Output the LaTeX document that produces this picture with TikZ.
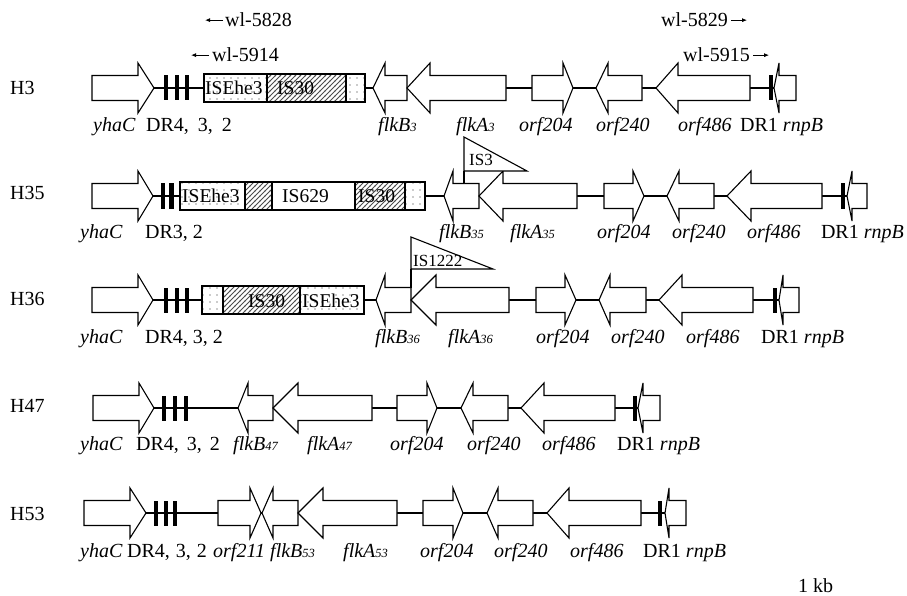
\documentclass[tikz,border=0pt]{standalone}
\usepackage{fontspec}
\setmainfont{Liberation Serif}
\usetikzlibrary{patterns,arrows.meta}

\pgfdeclarepatternformonly{sdots}{\pgfqpoint{-1pt}{-1pt}}{\pgfqpoint{1pt}{1pt}}{\pgfqpoint{7pt}{7pt}}{\pgfpathcircle{\pgfqpoint{0pt}{0pt}}{0.65pt}\pgfusepath{fill}}
\pgfdeclarepatternformonly{shatch}{\pgfqpoint{-1pt}{-1pt}}{\pgfqpoint{6pt}{6pt}}{\pgfqpoint{5pt}{5pt}}{\pgfsetlinewidth{0.75pt}\pgfpathmoveto{\pgfqpoint{-0.5pt}{-0.5pt}}\pgfpathlineto{\pgfqpoint{5.5pt}{5.5pt}}\pgfusepath{stroke}}

\tikzset{
  gene/.style={draw=black, fill=white, line width=1.1pt, line join=miter},
  isline/.style={draw=black, line width=1.1pt},
  backbone/.style={draw=black, line width=1.1pt},
  lab/.style={inner sep=0pt, font=\fontsize{20}{22}\selectfont, anchor=base west},
  glab/.style={lab, font=\fontsize{20}{22}\selectfont\itshape},
  rowlab/.style={inner sep=0pt, font=\fontsize{20}{22}\selectfont, anchor=west},
  islab/.style={inner sep=0pt, font=\fontsize{19.5}{22}\selectfont, anchor=base west},
  tlab/.style={inner sep=0pt, font=\fontsize{17}{19}\selectfont, anchor=base west},
  parrow/.style={line width=0.8pt, -{Latex[length=5pt,width=4pt]}},
}

\newcommand\geneR[4]{\draw[gene] (#1,#4-12.5) -- (#2,#4-12.5) -- (#2,#4-25) -- (#3,#4) -- (#2,#4+25) -- (#2,#4+12.5) -- (#1,#4+12.5) -- cycle;}
\newcommand\geneL[4]{\draw[gene] (#1,#4) -- (#2,#4-25) -- (#2,#4-12.5) -- (#3,#4-12.5) -- (#3,#4+12.5) -- (#2,#4+12.5) -- (#2,#4+25) -- cycle;}
\newcommand\drmark[2]{\fill[black] (#1-2.2,#2-12.5) rectangle (#1+2.2,#2+12.5);}
\newcommand\isdots[3]{\fill[white] (#1,#3-14) rectangle (#2,#3+14); \fill[pattern=sdots, pattern color=black!85] (#1,#3-14) rectangle (#2,#3+14); \draw[isline] (#1,#3-14) rectangle (#2,#3+14);}
\newcommand\ishatch[3]{\fill[white] (#1,#3-14) rectangle (#2,#3+14); \fill[pattern=shatch, pattern color=black!70] (#1,#3-14) rectangle (#2,#3+14); \draw[isline] (#1,#3-14) rectangle (#2,#3+14);}
\newcommand\isplain[3]{\draw[isline, fill=white] (#1,#3-14) rectangle (#2,#3+14);}
\newcommand\sbs[1]{{\fontsize{12.5}{13}\selectfont #1}}
\newcommand\drsp[1]{\hspace{\dimexpr 0.25em+#1pt\relax}}

\begin{document}
\begin{tikzpicture}[x=1pt,y=-1pt]
\useasboundingbox (0,0) rectangle (907,596);

% ---------- primers ----------
\node[lab] (p5828) at (225,27) {wl-5828};
\node[lab] (p5914) at (212,62) {wl-5914};
\node[lab] (p5829) at (661,27) {wl-5829};
\node[lab] (p5915) at (683,62) {wl-5915};
\draw[parrow] ([xshift=-2pt]p5828.west) -- ++(-18,0);
\draw[parrow] ([xshift=-3pt]p5914.west) -- ++(-18,0);
\draw[parrow] ([xshift=3pt]p5829.east) -- ++(16,0);
\draw[parrow] ([xshift=3pt]p5915.east) -- ++(16,0);

% ---------- row labels ----------
\node[rowlab] (h3) at (10,88) {H3};
\node[rowlab] (h35) at (10,193) {H35};
\node[rowlab] (h36) at (10,299) {H36};
\node[rowlab] (h47) at (10,406) {H47};
\node[rowlab] (h53) at (10,514) {H53};

% ================= H3 =================
\coordinate (a1) at (154,88); \coordinate (b1) at (774,88);
\draw[backbone] (a1) -- (b1);
\geneR{92}{138}{154}{88}
\drmark{166}{88}\drmark{177}{88}\drmark{187}{88}
\isdots{204}{267}{88}\ishatch{267}{346}{88}\isdots{346}{365}{88}
\node[islab] (is1a) at (205,95) {ISEhe3};
\node[islab] (is1b) at (277,95) {IS30};
\geneL{373}{385}{407}{88}
\geneL{407}{430}{506}{88}
\geneR{532}{563}{573}{88}
\geneL{596}{608}{642}{88}
\geneL{656}{678}{750}{88}
\drmark{771}{88}
\geneL{774}{779}{796}{88}
\node[glab] (l1a) at (93,132) {yhaC};
\node[lab]  (l1b) at (146,132) {DR4,\drsp{4}3,\drsp{4}2};
\node[glab] (l1c) at (378,132) {flkB\sbs{3}};
\node[glab] (l1d) at (456,132) {flkA\sbs{3}};
\node[glab] (l1e) at (519,132) {orf204};
\node[glab] (l1f) at (596,132) {orf240};
\node[glab] (l1g) at (678,132) {orf486};
\node[lab]  (l1h) at (740,132) {DR1 \textit{rnpB}};

% ================= H35 =================
\coordinate (a2) at (153,196); \coordinate (b2) at (847,196);
\draw[backbone] (a2) -- (b2);
\geneR{92}{138}{153}{196}
\drmark{163}{196}\drmark{171.5}{196}
\isdots{180}{245}{196}\ishatch{245}{272}{196}\isplain{272}{355}{196}\ishatch{355}{405}{196}\isdots{405}{425}{196}
\node[islab] (is2a) at (182,203) {ISEhe3};
\node[islab] (is2b) at (282,203) {IS629};
\node[islab] (is2c) at (358,203) {IS30};
\geneL{444}{453}{479}{196}
\geneL{479}{503}{577}{196}
\draw[gene] (464,137) -- (527,171) -- (464,171) -- cycle;
\draw[gene] (464,171) -- (464,183.5);
\node[tlab] (is3) at (469,166) {IS3};
\geneR{604}{633}{644}{196}
\geneL{667}{679}{714}{196}
\geneL{727}{751}{822}{196}
\drmark{843}{196}
\geneL{847}{852}{867}{196}
\node[glab] (l2a) at (80,238) {yhaC};
\node[lab]  (l2b) at (145,238) {DR3, 2};
\node[glab] (l2c) at (439,238) {flkB\sbs{35}};
\node[glab] (l2d) at (510,238) {flkA\sbs{35}};
\node[glab] (l2e) at (597,238) {orf204};
\node[glab] (l2f) at (672,238) {orf240};
\node[glab] (l2g) at (747,238) {orf486};
\node[lab, anchor=base east] (l2h) at (904,238) {DR1 \textit{rnpB}};

% ================= H36 =================
\coordinate (a3) at (153,300); \coordinate (b3) at (779,300);
\draw[backbone] (a3) -- (b3);
\geneR{92}{138}{153}{300}
\drmark{166}{300}\drmark{177}{300}\drmark{187}{300}
\isdots{202}{223}{300}\ishatch{223}{300}{300}\isdots{300}{364}{300}
\node[islab] (is3a) at (248,307) {IS30};
\node[islab] (is3b) at (302,307) {ISEhe3};
\geneL{376}{385}{411}{300}
\geneL{411}{436}{509}{300}
\draw[gene] (411,237) -- (493,269) -- (411,269) -- cycle;
\draw[gene] (411,269) -- (411,287.5);
\node[tlab] (is1222) at (413,266) {IS1222};
\geneR{536}{565}{576}{300}
\geneL{599}{610}{646}{300}
\geneL{659}{682}{753}{300}
\drmark{775}{300}
\geneL{779}{783}{799}{300}
\node[glab] (l3a) at (80,343) {yhaC};
\node[lab]  (l3b) at (145,343) {DR4, 3, 2};
\node[glab] (l3c) at (375,343) {flkB\sbs{36}};
\node[glab] (l3d) at (448,343) {flkA\sbs{36}};
\node[glab] (l3e) at (536,343) {orf204};
\node[glab] (l3f) at (611,343) {orf240};
\node[glab] (l3g) at (686,343) {orf486};
\node[lab]  (l3h) at (761,343) {DR1 \textit{rnpB}};

% ================= H47 =================
\coordinate (a4) at (154,408); \coordinate (b4) at (638,408);
\draw[backbone] (a4) -- (b4);
\geneR{93}{139}{154}{408}
\drmark{164}{408}\drmark{175}{408}\drmark{186}{408}
\geneL{238}{248}{273}{408}
\geneL{273}{298}{372}{408}
\geneR{397}{427}{437}{408}
\geneL{461}{473}{508}{408}
\geneL{521}{544}{615}{408}
\drmark{635}{408}
\geneL{638}{643}{660}{408}
\node[glab] (l4a) at (80,450) {yhaC};
\node[lab]  (l4b) at (136,450) {DR4,\drsp{3}3,\drsp{3}2};
\node[glab] (l4c) at (233,450) {flkB\sbs{47}};
\node[glab] (l4d) at (307,450) {flkA\sbs{47}};
\node[glab] (l4e) at (390,450) {orf204};
\node[glab] (l4f) at (467,450) {orf240};
\node[glab] (l4g) at (542,450) {orf486};
\node[lab]  (l4h) at (617,450) {DR1 \textit{rnpB}};

% ================= H53 =================
\coordinate (a5) at (146,513); \coordinate (b5) at (665,513);
\draw[backbone] (a5) -- (b5);
\geneR{84}{130}{146}{513}
\drmark{156}{513}\drmark{166}{513}\drmark{175}{513}
\geneR{218}{250}{261}{513}
\geneL{262}{273}{298}{513}
\geneL{298}{323}{397}{513}
\geneR{423}{453}{463}{513}
\geneL{487}{498}{533}{513}
\geneL{547}{569}{641}{513}
\drmark{660}{513}
\geneL{665}{669}{686}{513}
\node[glab] (l5a) at (80,557) {yhaC};
\node[lab]  (l5b) at (127,557) {DR4,\drsp{1}3,\drsp{1}2};
\node[glab] (l5c) at (213,557) {orf211};
\node[glab] (l5d) at (270,557) {flkB\sbs{53}};
\node[glab] (l5e) at (343,557) {flkA\sbs{53}};
\node[glab] (l5f) at (420,557) {orf204};
\node[glab] (l5g) at (494,557) {orf240};
\node[glab] (l5h) at (570,557) {orf486};
\node[lab]  (l5i) at (643,557) {DR1 \textit{rnpB}};

\node[lab] (kb) at (798,592) {1 kb};
\end{tikzpicture}
\end{document}
